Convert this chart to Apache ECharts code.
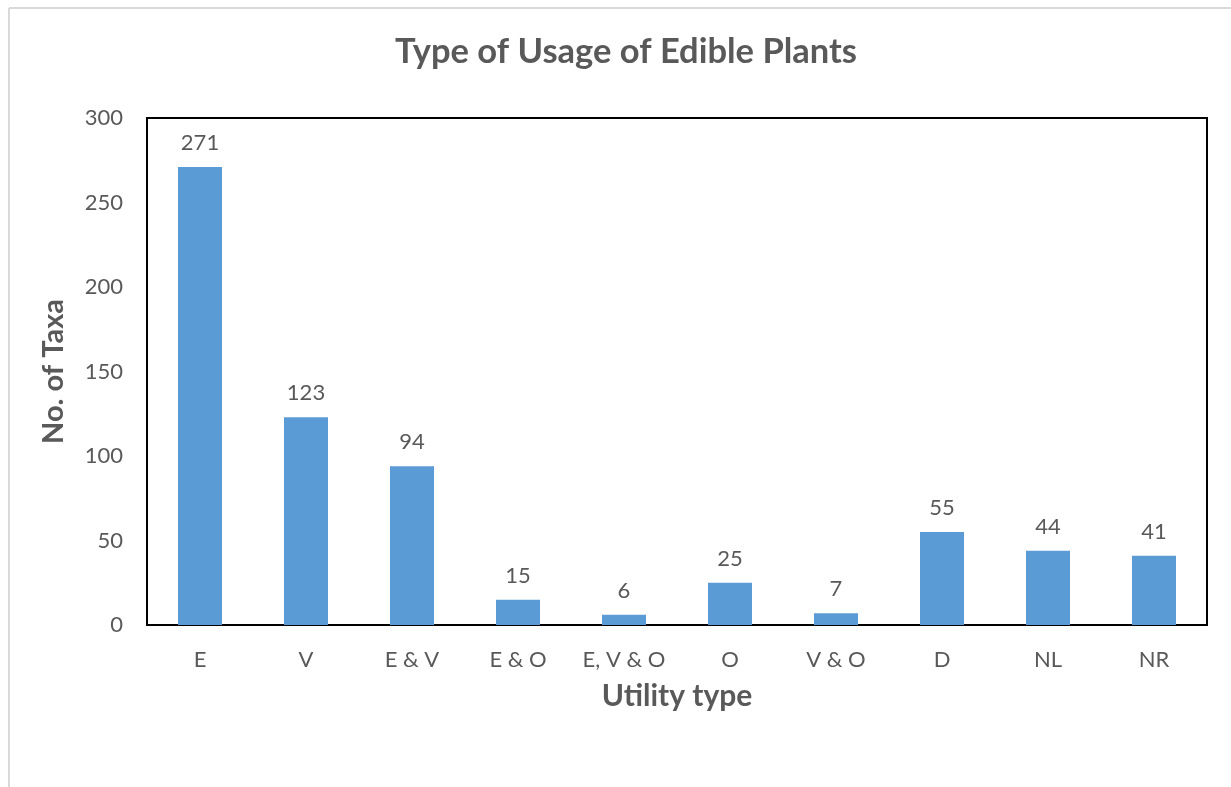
<!DOCTYPE html>
<html>
<head>
<meta charset="utf-8">
<script src="https://cdn.jsdelivr.net/npm/echarts@6/dist/echarts.min.js"></script>
<style>
  html, body { margin: 0; padding: 0; background: #fff; }
  #chart { width: 1231px; height: 787px; }
</style>
</head>
<body>
<div id="chart"></div>
<script>
// Utility types of edible plants and the number of taxa in each
const categories = ['E', 'V', 'E & V', 'E & O', 'E, V & O', 'O', 'V & O', 'D', 'NL', 'NR'];
const taxaCounts = [271, 123, 94, 15, 6, 25, 7, 55, 44, 41];
const yTicks = [0, 50, 100, 150, 200, 250, 300];

const textColor = '#595959';
const fontFamily = 'Lato, "Open Sans", sans-serif';

const chart = echarts.init(document.getElementById('chart'), null, { renderer: 'canvas' });

chart.setOption({
  backgroundColor: '#ffffff',
  animation: false,
  title: {
    text: 'Type of Usage of Edible Plants',
    left: 621,
    top: 29,
    textAlign: 'center',
    textStyle: { color: textColor, fontFamily: fontFamily, fontWeight: 'bold', fontSize: 34.5 }
  },
  graphic: [
    // outer chart-area frame
    { type: 'line', shape: { x1: 9, y1: 8, x2: 1231, y2: 8 }, style: { stroke: '#d9d9d9', lineWidth: 2 } },
    { type: 'line', shape: { x1: 9, y1: 8, x2: 9, y2: 787 }, style: { stroke: '#d9d9d9', lineWidth: 2 } }
  ],
  grid: {
    left: 147, top: 118, right: 24, bottom: 162,
    show: true, borderColor: '#000000', borderWidth: 2, backgroundColor: 'transparent'
  },
  xAxis: {
    type: 'category',
    data: categories,
    name: 'Utility type',
    nameLocation: 'middle',
    nameGap: 56,
    nameTextStyle: { color: textColor, fontFamily: fontFamily, fontWeight: 'bold', fontSize: 30 },
    axisLine: { show: true, lineStyle: { color: '#000000', width: 2 } },
    axisTick: { show: false },
    axisLabel: { color: textColor, fontFamily: fontFamily, fontSize: 22, margin: 24, interval: 0 }
  },
  yAxis: {
    type: 'value',
    min: yTicks[0],
    max: yTicks[yTicks.length - 1],
    interval: yTicks[1] - yTicks[0],
    name: 'No. of Taxa',
    nameLocation: 'middle',
    nameGap: 79,
    nameTextStyle: { color: textColor, fontFamily: fontFamily, fontWeight: 'bold', fontSize: 29 },
    axisLine: { show: false },
    axisTick: { show: false },
    splitLine: { show: false },
    axisLabel: { color: textColor, fontFamily: fontFamily, fontSize: 22, margin: 24 }
  },
  series: [{
    type: 'bar',
    data: taxaCounts,
    barWidth: 44,
    itemStyle: { color: '#5B9BD5' },
    label: {
      show: true,
      position: 'top',
      distance: 13,
      color: textColor,
      fontFamily: fontFamily,
      fontSize: 22
    }
  }]
});
</script>
</body>
</html>
